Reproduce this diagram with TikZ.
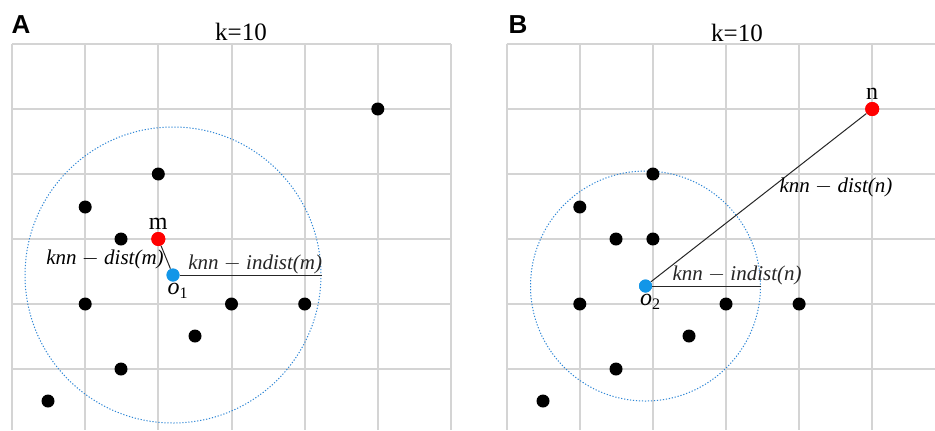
\documentclass[tikz,border=0pt]{standalone}
\usepackage{fontspec}
\setmainfont{Liberation Serif}
\newfontfamily\panelfont{Liberation Sans}
\usetikzlibrary{positioning}
\definecolor{gridgray}{RGB}{212,212,212}
\definecolor{rangeblue}{RGB}{46,134,214}
\definecolor{centerblue}{RGB}{18,150,232}
\definecolor{pointred}{RGB}{255,0,0}

\begin{document}
\begin{tikzpicture}[x=0.5pt, y=-0.5pt, font=\fontsize{10.5}{12}\selectfont,
    gridline/.style={draw=gridgray, line width=1pt},
    rangecircle/.style={draw=rangeblue, line width=0.5pt, dash pattern=on 0.6pt off 0.9pt},
    dot/.style={circle, fill=black, inner sep=0pt, minimum size=6.5pt},
    querydot/.style={circle, fill=pointred, inner sep=0pt, minimum size=7pt},
    centerdot/.style={circle, fill=centerblue, inner sep=0pt, minimum size=6.5pt},
    ptlabel/.style={inner sep=0.5pt, font=\fontsize{12}{14}\selectfont},
    distlabel/.style={inner sep=0.5pt, font=\fontsize{10.5}{12}\selectfont\itshape}]
  \useasboundingbox[fill=white] (0,0) rectangle (935,430);

  % panel A grid
  \foreach \x in {12,85.2,158.3,231.5,304.7,377.8,451}
    \draw[gridline] (\x,44) -- (\x,430);
  \foreach \y in {44,109,174,239,304,369}
    \draw[gridline] (12,\y) -- (451,\y);
  % panel B grid
  \foreach \x in {506.7,579.8,652.9,726,799.1,872.2}
    \draw[gridline] (\x,44) -- (\x,430);
  \foreach \y in {44,109,174,239,304,369}
    \draw[gridline] (506.7,\y) -- (935,\y);

  \node[font=\panelfont\bfseries\fontsize{13}{15}\selectfont] (titleA) at (21,25) {A};
  \node[font=\panelfont\bfseries\fontsize{13}{15}\selectfont] (titleB) at (518,25) {B};
  \node[font=\fontsize{12.5}{14}\selectfont] (kA) at (241,32) {k=10};
  \node[font=\fontsize{12.5}{14}\selectfont] (kB) at (737,33) {k=10};

  % panel A
  \node[centerdot] (o1) at (173,275) {};
  \node[querydot] (m) at (158.3,239) {};
  \coordinate (edgeA) at (322,275);
  \draw[rangecircle] (o1.center) circle[radius=148];
  \draw[black!85, line width=0.5pt] (m) -- (o1);
  \draw[black!85, line width=0.5pt] (o1) -- (edgeA) node[distlabel, pos=0.53, above] (indistA) {knn $-$ indist(m)};
  \foreach \p/\q [count=\i] in {377.8/109, 158.3/174, 85.2/207, 121/239, 85.2/304,
      231.5/304, 304.7/304, 195/336, 121/369, 48/401}
    \node[dot] (a\i) at (\p,\q) {};
  \node[centerdot] at (o1) {};
  \node[querydot] at (m) {};
  \node[ptlabel, above=0.5pt of m] (mlab) {m};
  \node[ptlabel, below=0pt of o1, xshift=2.5pt] (o1lab) {\textit{o}\textsubscript{1}};
  \node[distlabel] (distA) at (105,259) {knn $-$ dist(m)};

  % panel B
  \node[centerdot] (o2) at (645.5,286) {};
  \node[querydot] (n) at (872.2,109) {};
  \coordinate (edgeB) at (761,286);
  \draw[rangecircle] (o2.center) circle[radius=115];
  \draw[black!85, line width=0.5pt] (o2) -- (n);
  \draw[black!85, line width=0.5pt] (o2) -- (edgeB) node[distlabel, pos=0.78, above] (indistB) {knn $-$ indist(n)};
  \foreach \p/\q [count=\i] in {652.9/174, 579.8/207, 616/239, 652.9/239, 579.8/304,
      726/304, 799.1/304, 689/336, 616/369, 543/401}
    \node[dot] (b\i) at (\p,\q) {};
  \node[centerdot] at (o2) {};
  \node[querydot] at (n) {};
  \node[ptlabel, above=0.5pt of n] (nlab) {n};
  \node[ptlabel, below=0pt of o2, xshift=2.5pt] (o2lab) {\textit{o}\textsubscript{2}};
  \node[distlabel] (distB) at (836,187) {knn $-$ dist(n)};
\end{tikzpicture}
\end{document}
